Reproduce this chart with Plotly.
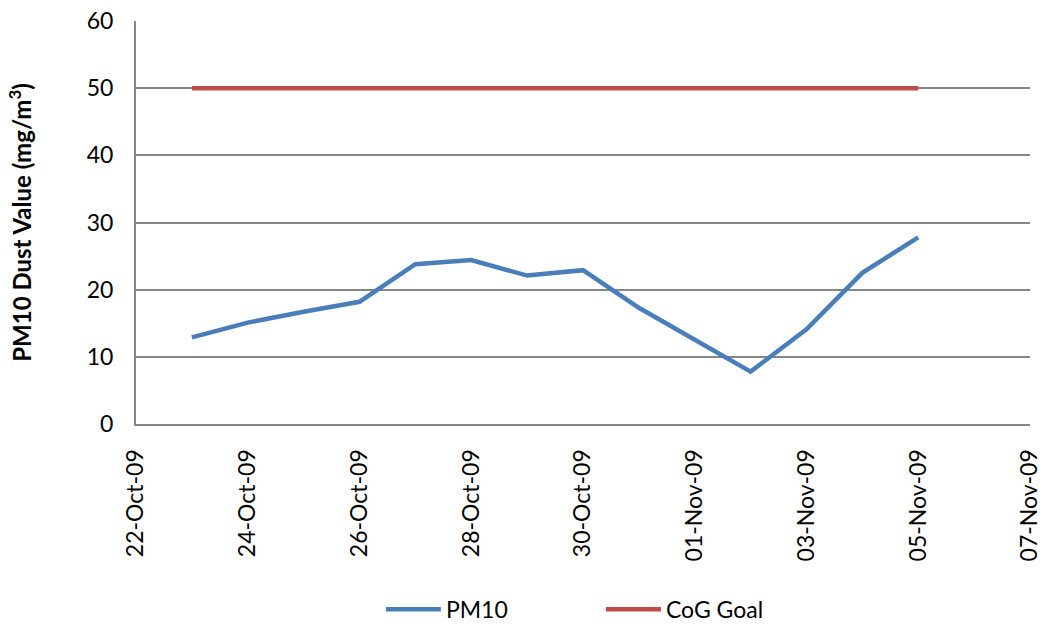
import plotly.graph_objects as go

dates = ["2009-10-23", "2009-10-24", "2009-10-25", "2009-10-26", "2009-10-27",
         "2009-10-28", "2009-10-29", "2009-10-30", "2009-10-31", "2009-11-01",
         "2009-11-02", "2009-11-03", "2009-11-04", "2009-11-05"]
pm10 = [12.9, 15.1, 16.7, 18.2, 23.8, 24.4, 22.1, 22.9, 17.3, 12.5, 7.8, 14.1, 22.5, 27.8]
goal = [50] * len(dates)

fig = go.Figure()
fig.add_trace(go.Scatter(x=dates, y=pm10, mode="lines", name="PM10",
                         line=dict(color="#4A7EBB", width=4.5)))
fig.add_trace(go.Scatter(x=dates, y=goal, mode="lines", name="CoG Goal",
                         line=dict(color="#BE4B48", width=4.5)))

font_family = "Lato, 'Open Sans', sans-serif"
fig.update_layout(
    width=1042, height=630,
    margin=dict(l=136, r=12, t=21, b=206, autoexpand=False),
    paper_bgcolor="white", plot_bgcolor="white",
    font=dict(family=font_family, size=23, color="black"),
    showlegend=True,
    legend=dict(orientation="h", x=0.52, xanchor="center",
                yref="container", y=0.033, yanchor="middle",
                font=dict(size=23), entrywidth=150, itemwidth=55),
)
fig.update_xaxes(
    type="date", range=["2009-10-22", "2009-11-07 00:01"],
    tick0="2009-10-22", dtick=2 * 86400000, tickformat="%d-%b-%y",
    tickangle=-90, showgrid=False, showline=True, linecolor="#868686", linewidth=2,
    ticks="", ticklabelstandoff=14, automargin=False, ticklabeloverflow="allow",
    tickfont=dict(size=23),
)
fig.update_yaxes(
    range=[0, 60], dtick=10, showgrid=True, gridcolor="#868686", gridwidth=1.5,
    showline=True, linecolor="#868686", linewidth=2, zeroline=False,
    ticks="", ticklabelstandoff=16, automargin=False,
    tickfont=dict(size=23),
    title=dict(text="<b>PM10 Dust Value (mg/m<sup>3</sup>)</b>", font=dict(size=24), standoff=48),
)
fig.write_html("out.html", config={"displayModeBar": False},
               post_script="document.body.style.margin='0';document.body.style.overflow='hidden';")
